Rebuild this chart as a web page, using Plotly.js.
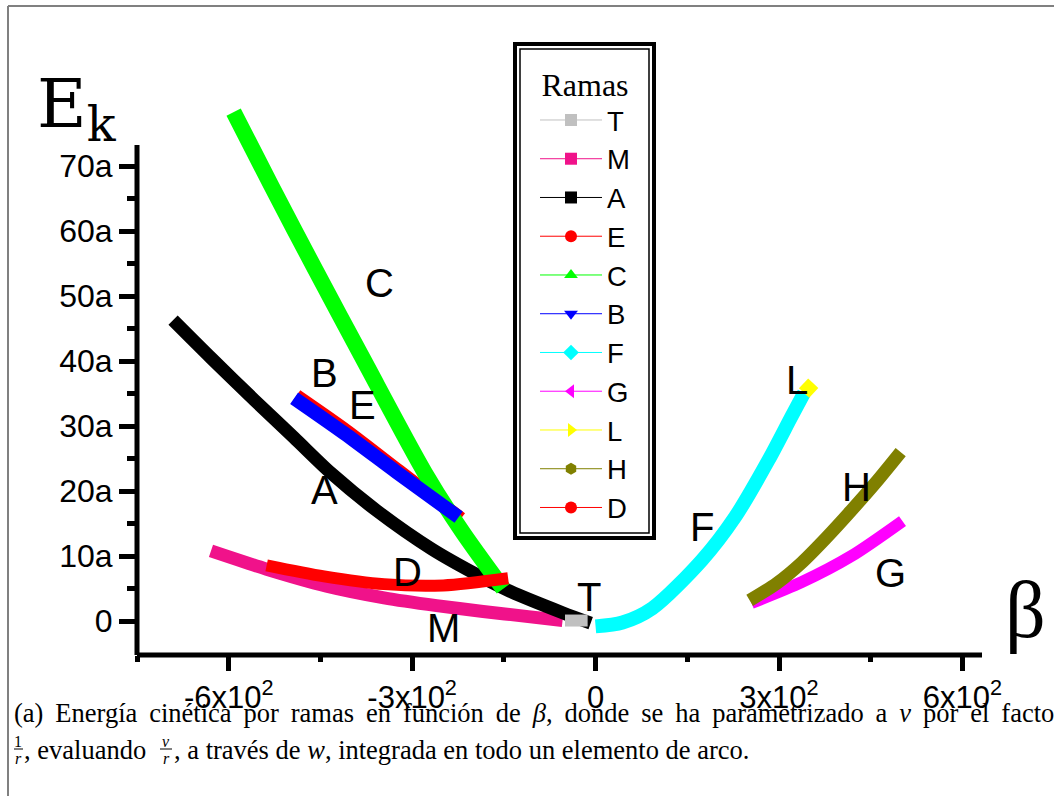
<!DOCTYPE html>
<html><head><meta charset="utf-8">
<script src="https://cdn.plot.ly/plotly-3.0.1.min.js"></script>
<style>html,body{margin:0;padding:0;background:#fff;} #chart{width:1054px;height:796px;}</style>
</head><body><div id="chart"></div>
<script>
// ---- data (beta, kinetic energy in units of a) ----
const T_beta = [-50, -13];
const T_ek   = [0.1, 0.1];
const M_beta = [-629, -538, -440, -346, -260, -184, -110, -54];
const M_ek   = [10.8, 8.0, 5.4, 3.6, 2.4, 1.5, 0.7, 0.1];
const A_beta = [-691, -628, -558, -493, -433, -358, -268, -189, -140, -54, -8];
const A_ek   = [46.3, 40.4, 34.0, 28.2, 22.8, 17.0, 11.1, 6.9, 4.6, 1.3, -0.3];
const E_beta = [-489, -407, -321, -220];
const E_ek   = [34.7, 29.3, 23.1, 15.8];
const C_beta = [-592, -530, -458, -380, -279, -219, -151];
const C_ek   = [78.3, 66.9, 54.0, 40.3, 22.8, 13.9, 5.0];
const B_beta = [-493, -411, -325, -224];
const B_ek   = [34.3, 28.9, 22.9, 16.0];
const F_beta = [0, 44, 93, 174, 228, 283, 320, 341];
const F_ek   = [-0.8, -0.2, 2.0, 9.4, 16.0, 24.8, 31.4, 35.1];
const G_beta = [255, 337, 418, 502];
const G_ek   = [2.8, 6.0, 10.0, 15.4];
const L_beta = [341, 356];
const L_ek   = [35.1, 36.6];
const H_beta = [252, 296, 337, 377, 418, 459, 499];
const H_ek   = [3.2, 5.8, 9.0, 12.8, 17.0, 21.4, 26.0];
const D_beta = [-538, -444, -346, -249, -143];
const D_ek   = [8.6, 6.9, 5.7, 5.5, 6.6];

const branchNames = ['T', 'M', 'A', 'E', 'C', 'B', 'F', 'G', 'L', 'H', 'D'];
const xTickVals = [-600, -300, 0, 300, 600];
const xTickText = ['-6x10<sup>2</sup>', '-3x10<sup>2</sup>', '0', '3x10<sup>2</sup>', '6x10<sup>2</sup>'];
const xMinorVals = [-750, -450, -150, 150, 450];
const yTickVals = [0, 10, 20, 30, 40, 50, 60, 70];
const yTickText = ['0', '10a', '20a', '30a', '40a', '50a', '60a', '70a'];
const yMinorVals = [5, 15, 25, 35, 45, 55, 65];

// ---- styles ----
const series = {
  T: {x: T_beta, y: T_ek, color: '#c0c0c0', sym: 'square', w: 12},
  M: {x: M_beta, y: M_ek, color: '#f0128a', sym: 'square', w: 13},
  A: {x: A_beta, y: A_ek, color: '#000000', sym: 'square', w: 13},
  E: {x: E_beta, y: E_ek, color: '#ff0000', sym: 'circle', w: 13},
  C: {x: C_beta, y: C_ek, color: '#00ff00', sym: 'triangle-up', w: 16},
  B: {x: B_beta, y: B_ek, color: '#0000ff', sym: 'triangle-down', w: 14},
  F: {x: F_beta, y: F_ek, color: '#00ffff', sym: 'diamond', w: 14},
  G: {x: G_beta, y: G_ek, color: '#ff00ff', sym: 'triangle-left', w: 12},
  L: {x: L_beta, y: L_ek, color: '#ffff00', sym: 'triangle-right', w: 14},
  H: {x: H_beta, y: H_ek, color: '#808000', sym: 'hexagon', w: 13},
  D: {x: D_beta, y: D_ek, color: '#ff0000', sym: 'circle', w: 12}
};
const drawOrder = ['M', 'A', 'E', 'C', 'B', 'F', 'G', 'L', 'H', 'D', 'T'];

const traces = [];
// legend entries (thin line + marker), placed on an overlay axis whose range keeps them out of view
branchNames.forEach(function (n) {
  const s = series[n];
  traces.push({
    type: 'scatter', mode: 'lines+markers', name: n, x: s.x, y: s.y,
    xaxis: 'x2', yaxis: 'y2',
    line: {color: s.color, width: 1},
    marker: {symbol: s.sym, color: s.color, size: 12},
    hoverinfo: 'skip', showlegend: true
  });
});
// the thick branch curves
drawOrder.forEach(function (n) {
  const s = series[n];
  traces.push({
    type: 'scatter', mode: 'lines', name: n, x: s.x, y: s.y,
    line: {color: s.color, width: s.w, shape: 'spline', smoothing: 0.8},
    hoverinfo: 'skip', showlegend: false
  });
});

// pixel -> paper helpers (plot area 137..982 x, 88..655 y)
const L0 = 137, R0 = 72, T0 = 88, B0 = 141, W = 1054, H = 796;
const PW = W - L0 - R0, PH = H - T0 - B0;
function px(x) { return (x - L0) / PW; }
function py(y) { return (T0 + PH - y) / PH; }

const sans = 'Liberation Sans, Arial, sans-serif';
const serif = 'Liberation Serif, Times New Roman, serif';

const labelDefs = [
  ['C', -354, 52], ['B', -444, 38.2], ['E', -382, 33.2], ['A', -444, 20.2],
  ['D', -307, 7.5], ['T', -10, 3.7], ['M', -249, -1.1], ['F', 174, 14.5],
  ['L', 330, 37.1], ['H', 426, 20.6], ['G', 483, 7.4]
];
const annotations = labelDefs.map(function (d) {
  return {text: d[0], x: d[1], y: d[2], xref: 'x', yref: 'y', showarrow: false,
          font: {family: sans, size: 40, color: 'black'}};
});
function pa(text, x, y, size, anchor, fam) {
  return {text: text, x: px(x), y: py(y), xref: 'paper', yref: 'paper', showarrow: false,
          xanchor: anchor || 'left', yanchor: 'middle',
          font: {family: fam || serif, size: size, color: 'black'}};
}
const sp = '\u2009 ';
const line1 = '(a) Energía cinética por ramas en función de <i>β</i>, donde se ha parametrizado a <i>v</i> por el factor'.split(' ').join(sp);
annotations.push(pa('E<sub>k</sub>', 77, 108, 68, 'center', 'DejaVu Serif, serif'));
annotations.push(pa('β', 1025, 610, 80, 'center'));
annotations.push(pa(line1, 12, 713, 26.5, 'left'));
annotations.push(pa('1', 18, 741, 16, 'center'));
annotations.push(pa('<i>r</i>', 18, 758, 16, 'center'));
annotations.push(pa(', evaluando', 22, 750, 26.5, 'left'));
annotations.push(pa('<i>v</i>', 166, 741, 16, 'center'));
annotations.push(pa('<i>r</i>', 166, 758, 16, 'center'));
annotations.push(pa(', a través de <i>w</i>, integrada en todo un elemento de arco.', 172, 750, 26.5, 'left'));

const shapes = [
  // page frame
  {type: 'line', xref: 'paper', yref: 'paper', x0: px(8), x1: px(8), y0: py(6), y1: py(800), line: {color: '#808080', width: 2}},
  {type: 'line', xref: 'paper', yref: 'paper', x0: px(8), x1: px(1060), y0: py(6), y1: py(6), line: {color: '#808080', width: 2}},
  // axes
  {type: 'line', xref: 'paper', yref: 'paper', x0: 0, x1: 1, y0: 0, y1: 0, line: {color: 'black', width: 5}},
  {type: 'line', xref: 'paper', yref: 'paper', x0: 0, x1: 0, y0: 0, y1: py(145), line: {color: 'black', width: 5}},
  // fraction bars
  {type: 'line', xref: 'paper', yref: 'paper', x0: px(14), x1: px(23), y0: py(749), y1: py(749), line: {color: 'black', width: 1}},
  {type: 'line', xref: 'paper', yref: 'paper', x0: px(160), x1: px(172), y0: py(749), y1: py(749), line: {color: 'black', width: 1}},
  // legend box (double border)
  {type: 'rect', xref: 'paper', yref: 'paper', x0: px(515), x1: px(654), y0: py(538), y1: py(44), line: {color: 'black', width: 4}, fillcolor: 'white', layer: 'above'},
  {type: 'rect', xref: 'paper', yref: 'paper', x0: px(520), x1: px(649), y0: py(533), y1: py(49), line: {color: 'black', width: 1.5}, layer: 'above'}
];

const layout = {
  width: W, height: H,
  margin: {l: L0, r: R0, t: T0, b: B0, pad: 0},
  paper_bgcolor: 'white', plot_bgcolor: 'white',
  showlegend: true,
  xaxis: {
    range: [-750, 632], showgrid: false, zeroline: false, showline: false,
    tickmode: 'array', tickvals: xTickVals, ticktext: xTickText,
    ticks: 'outside', ticklen: 15, tickwidth: 5, tickcolor: 'black',
    ticklabelstandoff: 0,
    tickfont: {family: sans, size: 31, color: 'black'},
    minor: {tickmode: 'array', tickvals: xMinorVals, ticks: 'outside', ticklen: 6, tickwidth: 5, tickcolor: 'black', showgrid: false}
  },
  yaxis: {
    range: [-5.2, 82], showgrid: false, zeroline: false, showline: false,
    tickmode: 'array', tickvals: yTickVals, ticktext: yTickText,
    ticks: 'outside', ticklen: 17, tickwidth: 5, tickcolor: 'black',
    tickfont: {family: sans, size: 32, color: 'black'},
    minor: {tickmode: 'array', tickvals: yMinorVals, ticks: 'outside', ticklen: 9, tickwidth: 5, tickcolor: 'black', showgrid: false}
  },
  xaxis2: {overlaying: 'x', range: [100000, 100001], visible: false, fixedrange: true},
  yaxis2: {overlaying: 'y', range: [100000, 100001], visible: false, fixedrange: true},
  legend: {
    x: px(535), xanchor: 'left', y: py(54), yanchor: 'top',
    maxheight: 700,
    bgcolor: 'rgba(0,0,0,0)', borderwidth: 0, itemwidth: 62,
    font: {family: sans, size: 27.5, color: 'black'},
    title: {text: 'Ramas', side: 'top center', font: {family: serif, size: 32, color: 'black'}},
    traceorder: 'normal', itemclick: false, itemdoubleclick: false
  },
  annotations: annotations,
  shapes: shapes
};

Plotly.newPlot('chart', traces, layout, {displayModeBar: false, staticPlot: true});
</script>
</body></html>
